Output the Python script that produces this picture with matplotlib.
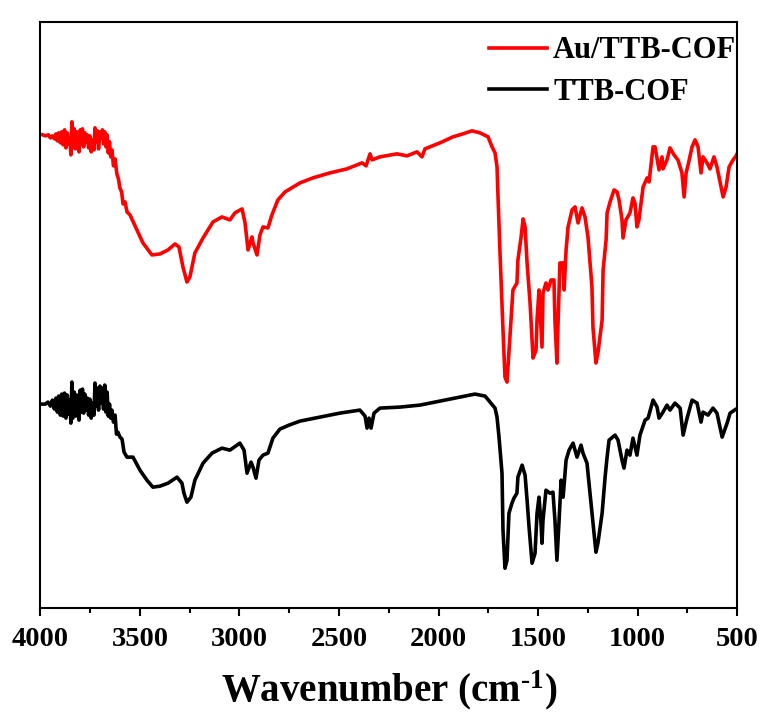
import matplotlib
matplotlib.use('Agg')
import matplotlib.pyplot as plt
from matplotlib.ticker import MultipleLocator

plt.rcParams['font.family'] = ['Liberation Serif', 'DejaVu Serif']
plt.rcParams['font.weight'] = 'bold'
plt.rcParams['mathtext.fontset'] = 'custom'
plt.rcParams['mathtext.rm'] = 'Liberation Serif:bold'
plt.rcParams['mathtext.bf'] = 'Liberation Serif:bold'
plt.rcParams['mathtext.default'] = 'bf'

# Au/TTB-COF spectrum (wavenumber in cm-1, offset transmittance in a.u.)
au_wn = [3989, 3975, 3960, 3950, 3940, 3930, 3922, 3915, 3908, 3900, 3893, 3886,
         3879, 3872, 3865, 3858, 3852, 3847, 3842, 3837, 3830, 3824, 3818, 3811,
         3806, 3800, 3794, 3789, 3783, 3777, 3771, 3765, 3758, 3752, 3745, 3738,
         3731, 3726, 3720, 3714, 3708, 3701, 3695, 3689, 3683, 3677, 3671, 3665,
         3659, 3653, 3647, 3641, 3633, 3625, 3616, 3608, 3601, 3592, 3585, 3575,
         3565, 3550, 3515, 3485, 3440, 3400, 3359, 3324,
         3304, 3284, 3264, 3249, 3224, 3183, 3133, 3088, 3048, 3023, 2987, 2972,
         2957, 2937, 2932, 2912, 2897, 2882, 2857, 2837, 2807, 2771, 2746,
         2696, 2631, 2545, 2460, 2384, 2364, 2344, 2334, 2294, 2209, 2158, 2108,
         2083, 2068, 1993, 1927, 1877, 1832, 1792, 1751, 1731, 1716, 1706, 1701,
         1691, 1676, 1666, 1656, 1651, 1636, 1626, 1606, 1601, 1585, 1575, 1565,
         1555, 1540, 1530, 1525, 1510, 1505, 1495, 1485, 1480, 1475, 1460, 1450,
         1435, 1420, 1415, 1405, 1400, 1390, 1374, 1369, 1359, 1349, 1329, 1314,
         1299, 1279, 1264, 1249, 1229, 1224, 1209, 1199, 1178, 1173, 1158, 1153,
         1138, 1118, 1103, 1093, 1078, 1073, 1058, 1038, 1023, 1013, 1003, 993,
         972, 952, 942, 922, 912, 892, 877, 872, 852, 837, 817, 797, 777, 766,
         756, 746, 726, 711, 696, 681, 671, 651, 636, 616, 601, 570, 555, 540,
         520, 505, 500]
au_t = [47.3, 47.2, 47.3, 47.0, 47.2, 46.9, 47.4, 46.7, 47.5, 46.5, 47.6, 46.3,
        47.8, 46.0, 47.5, 46.4, 47.0, 45.3, 48.6, 46.0, 47.9, 45.9, 47.6, 46.2,
        45.6, 47.8, 46.4, 47.9, 46.1, 47.5, 46.6, 47.3, 46.0, 47.2, 45.6, 46.8,
        45.8, 48.0, 46.6, 47.7, 45.9, 47.6, 47.0, 47.8, 46.4, 47.6, 46.1, 47.3,
        45.5, 46.6, 45.1, 45.8, 44.2, 44.9, 43.4, 42.9, 42.0, 41.6, 40.4, 40.6,
        39.6, 39.3, 37.8, 36.5, 35.3, 35.4, 35.8, 36.4,
        36.1, 34.1, 32.6, 33.1, 35.5, 37.0, 38.6, 39.1, 38.8, 39.5, 39.9, 38.5,
        35.8, 37.1, 36.5, 35.3, 37.3, 38.1, 38.0, 39.3, 40.8, 41.6, 41.9,
        42.5, 43.0, 43.5, 43.9, 44.5, 44.2, 45.4, 44.8, 45.1, 45.4, 45.2, 45.6,
        45.1, 45.9, 46.5, 47.1, 47.4, 47.7, 47.5, 47.1, 46.1, 45.5, 44.1, 41.1,
        35.5, 27.8, 23.1, 22.6, 24.1, 28.8, 31.8, 32.5, 34.8, 37.1, 38.9, 38.1,
        34.5, 30.5, 26.8, 25.0, 25.8, 28.8, 31.8, 28.1, 26.1, 31.5, 32.5, 31.8,
        32.8, 32.8, 28.8, 24.5, 28.1, 34.5, 34.5, 31.8, 35.8, 38.1, 39.8, 40.1,
        38.5, 40.0, 39.1, 37.1, 32.1, 28.1, 24.5, 25.5, 28.8, 33.8, 36.8, 39.5,
        40.6, 41.8, 41.6, 40.8, 38.8, 37.0, 38.8, 39.5, 41.0, 40.5, 38.1, 38.8,
        42.1, 43.0, 42.6, 46.1, 46.1, 43.8, 45.1, 43.9, 44.8, 46.0, 45.3, 44.8,
        43.5, 41.1, 43.5, 44.3, 46.1, 46.8, 46.1, 43.5, 45.1, 44.5, 43.9, 45.1,
        44.1, 41.1, 42.1, 44.1, 44.8, 45.2, 45.4]

# TTB-COF spectrum
ttb_wn = [3989, 3975, 3962, 3950, 3940, 3930, 3922, 3915, 3908, 3900, 3893, 3886,
          3879, 3872, 3865, 3858, 3852, 3847, 3842, 3837, 3830, 3824, 3818, 3811,
          3806, 3800, 3794, 3789, 3783, 3777, 3771, 3765, 3758, 3752, 3745, 3738,
          3731, 3726, 3720, 3714, 3708, 3701, 3695, 3689, 3683, 3677, 3671, 3665,
          3659, 3653, 3647, 3641, 3633, 3625, 3618, 3611, 3600, 3590, 3580, 3565,
          3535, 3500, 3465, 3435,
          3400, 3359, 3314, 3289, 3279, 3264, 3244, 3224, 3183, 3138, 3088, 3048,
          2998, 2977, 2962, 2942, 2932, 2917, 2902, 2882, 2857, 2832, 2797, 2751,
          2696, 2596, 2495, 2395, 2369, 2359, 2349, 2339, 2324, 2294, 2194, 2093,
          1993, 1892, 1817, 1766,
          1741, 1716, 1706, 1696, 1681, 1676, 1666, 1656, 1646, 1631, 1621, 1606,
          1601, 1580, 1565, 1555, 1545, 1530, 1515, 1505, 1495, 1485, 1480, 1475,
          1460, 1440, 1425, 1415, 1405, 1395, 1384, 1374, 1359, 1344, 1324, 1304,
          1284, 1274, 1254, 1239, 1224, 1209, 1199, 1178, 1163, 1153, 1143, 1113,
          1098, 1078, 1068, 1053, 1038, 1023, 1003, 988, 962, 947, 922, 902, 892,
          872, 852, 837, 812, 786, 771, 751, 726, 701, 681, 671, 646, 621, 601,
          575, 550, 535, 505, 500]
ttb_t = [20.4, 20.4, 20.6, 20.2, 20.8, 19.9, 21.0, 19.6, 21.2, 19.3, 21.4, 19.2,
         21.5, 19.0, 21.3, 19.4, 20.8, 18.5, 22.6, 19.0, 21.6, 19.2, 21.3, 19.6,
         18.8, 21.8, 19.6, 21.9, 19.5, 21.4, 19.8, 21.0, 19.3, 20.9, 19.0, 20.5,
         19.3, 22.5, 20.2, 22.0, 19.8, 22.2, 20.5, 22.0, 19.9, 22.3, 19.6, 21.6,
         19.2, 20.4, 19.0, 19.8, 18.6, 19.3, 17.4, 17.6, 17.1, 16.9, 15.6, 15.1,
         15.1, 13.8, 12.8, 12.1,
         12.2, 12.5, 13.1, 12.5, 11.5, 10.6, 11.1, 12.8, 14.5, 15.5, 16.0, 15.8,
         16.5, 15.8, 13.5, 14.6, 14.1, 13.0, 14.8, 15.3, 15.5, 17.0, 17.9, 18.3,
         18.7, 19.1, 19.5, 19.8, 19.2, 18.0, 19.0, 18.0, 19.5, 20.0, 20.1, 20.3,
         20.7, 21.1, 21.4, 21.2,
         20.6, 20.0, 19.1, 17.1, 13.5, 7.8, 4.0, 4.8, 9.5, 10.5, 11.0, 11.5,
         13.1, 14.3, 13.3, 10.8, 8.1, 4.5, 5.5, 9.5, 11.1, 8.5, 6.5, 8.8,
         11.8, 11.5, 11.6, 8.8, 4.8, 8.5, 12.8, 11.1, 14.8, 15.8, 16.5, 15.1,
         16.3, 15.5, 14.5, 11.5, 8.5, 5.6, 6.5, 9.5, 13.1, 15.1, 16.8, 17.3,
         16.8, 14.8, 14.0, 15.8, 15.3, 17.0, 15.3, 17.3, 18.8, 19.0, 20.8, 20.1,
         19.0, 19.6, 20.3, 19.8, 20.5, 20.0, 17.3, 19.0, 20.8, 20.5, 18.6, 19.6,
         19.3, 20.0, 19.5, 17.1, 18.5, 19.5, 19.9, 19.9]

fig = plt.figure(figsize=(7.63, 7.25), dpi=100)
ax = fig.add_axes([0.053, 0.161, 0.913, 0.809])

ax.plot(au_wn, au_t, color='#ff0000', lw=2.6, label='Au/TTB-COF')
ax.plot(ttb_wn, ttb_t, color='black', lw=2.6, label='TTB-COF')

ax.set_xlim(4000, 500)
ax.set_ylim(0, 58.6)
ax.xaxis.set_major_locator(MultipleLocator(500))
ax.xaxis.set_minor_locator(MultipleLocator(250))
ax.set_yticks([])
ax.tick_params(axis='x', which='major', direction='out', length=6, width=1.5,
               labelsize=20.5, pad=7.5)
ax.tick_params(axis='x', which='minor', direction='out', length=3.5, width=1.5)
for sp in ax.spines.values():
    sp.set_linewidth(1.5)

ax.set_xlabel(r'Wavenumber (cm$^{\text{-1}}$)', fontsize=28, fontweight='bold',
              labelpad=12)

leg = ax.legend(loc='upper right', bbox_to_anchor=(1.012, 0.991), frameon=False,
                fontsize=22, handlelength=1.9, handletextpad=0.2,
                labelspacing=0.42, borderaxespad=0.1, borderpad=0.2)
for t in leg.get_texts():
    t.set_fontweight('bold')

fig.savefig('out.png', dpi=100)
